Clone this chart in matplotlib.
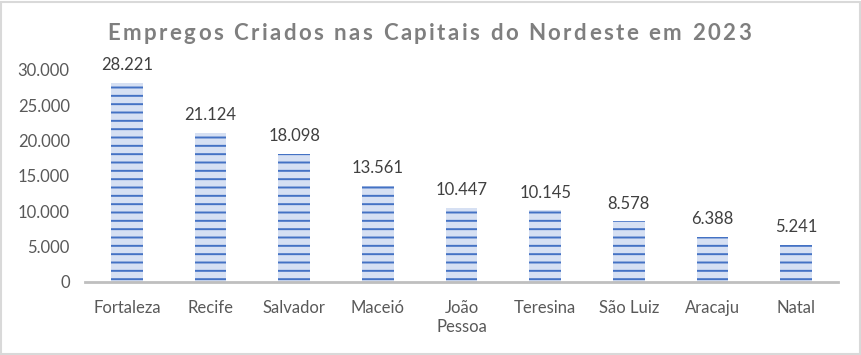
import matplotlib
matplotlib.use("Agg")
import matplotlib.pyplot as plt
from matplotlib.patches import Rectangle
from matplotlib.font_manager import FontProperties, findfont
from matplotlib.ft2font import FT2Font

categories = ["Fortaleza", "Recife", "Salvador", "Maceió", "João\nPessoa",
              "Teresina", "São Luiz", "Aracaju", "Natal"]
values = [28221, 21124, 18098, 13561, 10447, 10145, 8578, 6388, 5241]
yticks = [0, 5000, 10000, 15000, 20000, 25000, 30000]
title = "Empregos Criados nas Capitais do Nordeste em 2023"

def br(v):
    return f"{v:,}".replace(",", ".")

plt.rcParams['hatch.linewidth'] = 1.4
FONT = ['Lato', 'DejaVu Sans']
FS = 12
W, H, DPI = 862, 355, 100
fig = plt.figure(figsize=(W / DPI, H / DPI), dpi=DPI)
fig.patch.set_facecolor('white')

ax = fig.add_axes([85 / W, 1 - 282 / H, (838 - 85) / W, (282 - 70) / H])
x = range(len(categories))
ax.bar(x, values, width=0.38, color='#d6e0f3', edgecolor='#4472c4',
       linewidth=0, hatch='--', zorder=2)
ax.set_xlim(-0.5, len(categories) - 0.5)
ax.set_ylim(0, 30000)
ax.set_yticks(yticks)
ax.set_yticklabels([br(v) for v in yticks], fontsize=FS, color='#595959', family=FONT)
ax.set_xticks(list(x))
ax.set_xticklabels(categories, fontsize=FS, color='#595959', family=FONT, linespacing=1.2, va='top')
ax.tick_params(axis='both', length=0)
ax.tick_params(axis='y', pad=11)
ax.tick_params(axis='x', pad=13)
for s in ['top', 'right', 'left']:
    ax.spines[s].set_visible(False)
ax.spines['bottom'].set_color('#bfbfbf')
ax.spines['bottom'].set_linewidth(2)
ax.spines['bottom'].set_zorder(3)

for i, v in enumerate(values):
    ax.annotate(br(v), (i, v), xytext=(0, 7), textcoords='offset points',
                ha='center', va='bottom', fontsize=FS, color='#404040',
                family=FONT, annotation_clip=False)

# letter-spaced title
TS = 16
fp = FontProperties(family='Lato', weight='bold', size=TS)
ft = FT2Font(findfont(fp), hinting_factor=1)
ft.set_size(TS, DPI)
adv = []
for c in title:
    g = ft.load_char(ord(c))
    adv.append(g.linearHoriAdvance / 65536.0)
target = 750 - 107
spacing = (target - sum(adv)) / (len(title) - 1)
spacing = max(spacing, 1.5)
total = sum(adv) + spacing * (len(title) - 1)
xc = 429
xpos = xc - total / 2
for c, a in zip(title, adv):
    if c != ' ':
        fig.text(xpos / W, 1 - 40 / H, c, fontproperties=fp, color='#7f7f7f',
                 ha='left', va='baseline')
    xpos += a + spacing

# chart border
fig.add_artist(Rectangle((1 / W, 1 / H), (W - 3) / W, (H - 3) / H,
                         transform=fig.transFigure, fill=False,
                         edgecolor='#d9d9d9', linewidth=1.5))

fig.savefig("out.png", dpi=DPI)
